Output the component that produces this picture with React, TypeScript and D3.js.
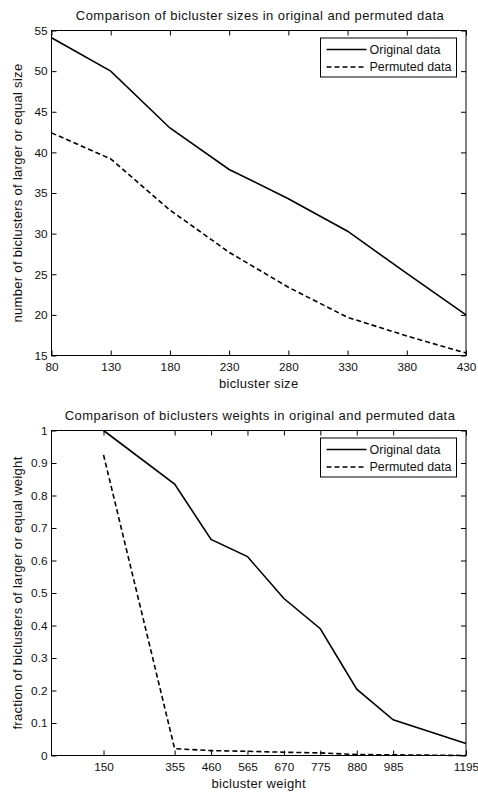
import React, { useEffect, useRef } from 'react';
import * as d3 from 'd3';

// top chart: bicluster sizes
const sizes = [80, 130, 180, 230, 280, 330, 380, 430];
const sizeOriginal = [54.1, 50, 43, 37.9, 34.3, 30.3, 25.1, 20];
const sizePermuted = [42.4, 39.2, 32.9, 27.7, 23.4, 19.7, 17.4, 15.3];
const sizeYTicks = [15, 20, 25, 30, 35, 40, 45, 50, 55];

// bottom chart: bicluster weights
const weights = [150, 355, 460, 565, 670, 775, 880, 985, 1195];
const weightOriginal = [1.0, 0.835, 0.665, 0.612, 0.483, 0.39, 0.204, 0.11, 0.037];
const weightPermuted = [0.925, 0.021, 0.015, 0.013, 0.01, 0.008, 0.003, 0.002, 0.0];
const weightYTicks = [0, 0.1, 0.2, 0.3, 0.4, 0.5, 0.6, 0.7, 0.8, 0.9, 1];

const seriesNames = ['Original data', 'Permuted data'];

const FONT = '"Liberation Sans", Arial, sans-serif';

type ChartOpts = {
  top: number;
  bottom: number;
  title: string;
  xLabel: string;
  yLabel: string;
  xDomain: [number, number];
  xTicks: number[];
  yDomain: [number, number];
  yTicks: number[];
  xs: number[];
  series: number[][];
};

function drawChart(svg: d3.Selection<SVGSVGElement, unknown, null, undefined>, o: ChartOpts) {
  const left = 51.5;
  const right = 466;
  const g = svg.append('g');

  const x = d3.scaleLinear().domain(o.xDomain).range([left, right]);
  const y = d3.scaleLinear().domain(o.yDomain).range([o.bottom, o.top]);

  const styleAxis = (a: any) => {
    a.select('.domain').remove();
    a.selectAll('line').attr('stroke', '#000');
    a.selectAll('text').attr('font-family', FONT).attr('font-size', 11.8).attr('fill', '#111');
  };

  g.append('g')
    .attr('transform', `translate(0,${o.bottom})`)
    .call(d3.axisBottom(x).tickValues(o.xTicks).tickSize(-5).tickPadding(7).tickFormat(d => String(d)))
    .call(styleAxis);
  g.append('g')
    .attr('transform', `translate(0,${o.top})`)
    .call(d3.axisTop(x).tickValues(o.xTicks).tickSize(-5).tickFormat(() => ''))
    .call(styleAxis);
  g.append('g')
    .attr('transform', `translate(${left},0)`)
    .call(d3.axisLeft(y).tickValues(o.yTicks).tickSize(-5).tickPadding(4).tickFormat(d => String(d)))
    .call(styleAxis);
  g.append('g')
    .attr('transform', `translate(${right},0)`)
    .call(d3.axisRight(y).tickValues(o.yTicks).tickSize(-5).tickFormat(() => ''))
    .call(styleAxis);

  g.append('rect')
    .attr('x', left).attr('y', o.top)
    .attr('width', right - left).attr('height', o.bottom - o.top)
    .attr('fill', 'none').attr('stroke', '#000').attr('stroke-width', 1);

  const line = d3.line<number>()
    .x((_, i) => x(o.xs[i]))
    .y(d => y(d));

  o.series.forEach((s, i) => {
    g.append('path')
      .datum(s)
      .attr('d', line)
      .attr('fill', 'none')
      .attr('stroke', '#000')
      .attr('stroke-width', 1.6)
      .attr('stroke-dasharray', i === 1 ? '5,3' : null);
  });

  // title and labels
  g.append('text')
    .attr('x', 260).attr('y', o.top - 10.5)
    .attr('text-anchor', 'middle')
    .attr('font-family', FONT).attr('font-size', 13).attr('letter-spacing', 0.45).attr('fill', '#111')
    .text(o.title);
  g.append('text')
    .attr('x', (left + right) / 2).attr('y', o.bottom + 32)
    .attr('text-anchor', 'middle')
    .attr('font-family', FONT).attr('font-size', 13).attr('letter-spacing', 0.3).attr('fill', '#111')
    .text(o.xLabel);
  g.append('text')
    .attr('transform', `translate(21.5,${(o.top + o.bottom) / 2}) rotate(-90)`)
    .attr('text-anchor', 'middle')
    .attr('font-family', FONT).attr('font-size', 13).attr('letter-spacing', 0.3).attr('fill', '#111')
    .text(o.yLabel);

  // legend
  const lg = g.append('g').attr('transform', `translate(320.5,${o.top + 7.5})`);
  lg.append('rect')
    .attr('width', 136).attr('height', 39)
    .attr('fill', '#fff').attr('stroke', '#000').attr('stroke-width', 1);
  seriesNames.forEach((name, i) => {
    const cy = 11.5 + i * 17.5;
    lg.append('line')
      .attr('x1', 6).attr('x2', 46).attr('y1', cy).attr('y2', cy)
      .attr('stroke', '#000').attr('stroke-width', 1.6)
      .attr('stroke-dasharray', i === 1 ? '5,3' : null);
    lg.append('text')
      .attr('x', 49).attr('y', cy).attr('dy', '0.35em')
      .attr('font-family', FONT).attr('font-size', 12.5).attr('fill', '#111')
      .text(name);
  });
}

export default function App() {
  const svgRef = useRef<SVGSVGElement>(null);

  useEffect(() => {
    const svg = d3.select(svgRef.current as SVGSVGElement);
    svg.selectAll('*').remove();

    drawChart(svg, {
      top: 30.5,
      bottom: 355.5,
      title: 'Comparison of bicluster sizes in original and permuted data',
      xLabel: 'bicluster size',
      yLabel: 'number of biclusters of larger or equal size',
      xDomain: [80, 430],
      xTicks: sizes,
      yDomain: [15, 55],
      yTicks: sizeYTicks,
      xs: sizes,
      series: [sizeOriginal, sizePermuted],
    });

    drawChart(svg, {
      top: 430.5,
      bottom: 755.5,
      title: 'Comparison of biclusters weights in original and permuted data',
      xLabel: 'bicluster weight',
      yLabel: 'fraction of biclusters of larger or equal weight',
      xDomain: [0, 1195],
      xTicks: weights,
      yDomain: [0, 1],
      yTicks: weightYTicks,
      xs: weights,
      series: [weightOriginal, weightPermuted],
    });
  }, []);

  return (
    <svg
      ref={svgRef}
      width={478}
      height={794}
      style={{ position: 'absolute', left: 0, top: 0, background: '#fff' }}
    />
  );
}
